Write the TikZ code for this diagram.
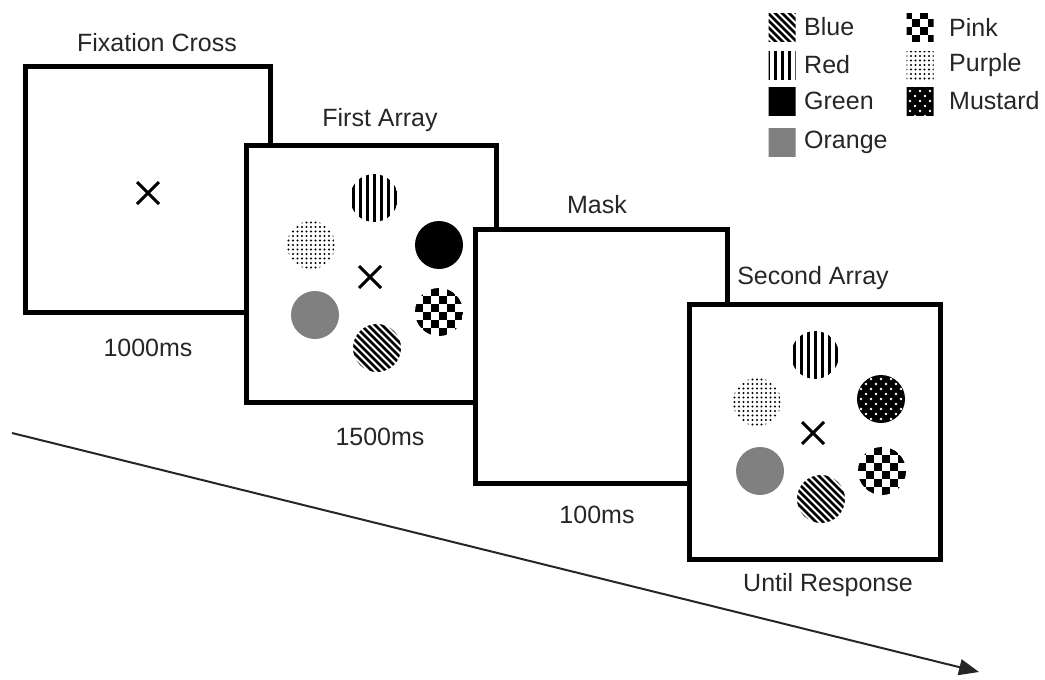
\documentclass[tikz,border=0pt]{standalone}
\usepackage{fontspec}
\setmainfont{Liberation Sans}
\usepackage{tikz}
\usetikzlibrary{arrows.meta}
\usetikzlibrary{positioning}
\newcommand{\inkColor}{black!85}
\newcommand{\orangeGray}{black!50}
\tikzset{
    screen/.style = {draw, fill=white, line width=5pt, inner sep=0pt},
    caption/.style = {text=\inkColor, font=\fontsize{25}{29}\selectfont, inner sep=0pt},
    legtext/.style = {caption, anchor=west}
}
% patterns, drawn round (0,0), clipped later
\newcommand{\patBlue}{\foreach \k in {-63,-56,...,63} \draw[line width=2.5pt] (\k-30,-30) -- (\k+30,30);}
\newcommand{\patRed}{\foreach \k in {-21,-14,...,21} \draw[line width=3pt] (\k,-30) -- (\k,30);}
\newcommand{\patGreen}{\fill (-30,-30) rectangle (30,30);}
\newcommand{\patOrange}{\fill[\orangeGray] (-30,-30) rectangle (30,30);}
\newcommand{\patPink}{\foreach \i in {-32,-16,...,16} \foreach \j in {-32,-16,...,16} {\fill (\i,\j) rectangle ++(8,8); \fill (\i+8,\j+8) rectangle ++(8,8);}}
\newcommand{\patPurple}{\foreach \i in {-27,-22.5,...,27} \foreach \j in {-27,-22.5,...,27} \fill (\i,\j) circle (1.15);}
\newcommand{\patMustard}{\fill (-30,-30) rectangle (30,30);
    \foreach \i in {-30,-20,...,30} \foreach \j in {-30,-20,...,30} {\fill[white] (\i,\j) circle (1.3); \fill[white] (\i+5,\j+5) circle (1.3);}}
\newcommand{\stim}[3]{\begin{scope}[shift={(#2,#3)}]\clip (0,0) circle (24); #1 \end{scope}}
\newcommand{\swatch}[3]{\begin{scope}[shift={(#2,#3)}]\clip (-13.5,-14) rectangle (13.5,14); #1 \end{scope}}
\newcommand{\fixcross}[2]{\draw[line width=3pt] (#1-11,#2-11) -- (#1+11,#2+11) (#1-11,#2+11) -- (#1+11,#2-11);}

\begin{document}
\begin{tikzpicture}[x=1pt, y=-1pt]
    \useasboundingbox (0,0) rectangle (1045,680);

    % time arrow
    \coordinate (tstart) at (12,433);
    \coordinate (tend) at (979,672);
    \draw[\inkColor, line width=2pt, -{Triangle[length=20pt,width=16pt]}] (tstart) -- (tend);

    % the four screens
    \node[screen, minimum width=245pt, minimum height=246pt] (fix) at (148,189.5) {};
    \node[screen, minimum width=250pt, minimum height=257pt] (first) at (371.5,274) {};
    \node[screen, minimum width=252pt, minimum height=254pt] (mask) at (601.5,356.5) {};
    \node[screen, minimum width=251pt, minimum height=255pt] (second) at (815,432) {};

    \node[caption] (fixT) at (157,43) {Fixation Cross};
    \node[caption] (firstT) at (380,120) {First Array};
    \node[caption] (maskT) at (597,205) {Mask};
    \node[caption] (secondT) at (813,278) {Second Array};
    \node[caption] (fixD) at (148,348) {1000ms};
    \node[caption] (firstD) at (380,437) {1500ms};
    \node[caption] (maskD) at (597,515) {100ms};
    \node[caption] (secondD) at (828,585) {Until Response};

    % fixation crosses
    \fixcross{148}{193}
    \fixcross{370}{277}
    \fixcross{813}{433}

    % first array
    \stim{\patRed}{374}{198}
    \stim{\patPurple}{311}{245}
    \stim{\patGreen}{439}{245}
    \stim{\patOrange}{315}{315}
    \stim{\patPink}{439}{312}
    \stim{\patBlue}{377}{348}

    % second array
    \stim{\patRed}{815}{355}
    \stim{\patPurple}{757}{402}
    \stim{\patMustard}{881}{399}
    \stim{\patOrange}{760}{471}
    \stim{\patPink}{882}{471}
    \stim{\patBlue}{821}{499}

    % legend
    \swatch{\patBlue}{782}{27}
    \swatch{\patRed}{782}{65}
    \swatch{\patGreen}{782}{101}
    \swatch{\patOrange}{782}{142}
    \swatch{\patPink}{920}{27}
    \swatch{\patPurple}{920}{65}
    \swatch{\patMustard}{920}{101}
    \node[legtext] (legBlue) at (804,27) {Blue};
    \node[legtext] (legRed) at (804,65) {Red};
    \node[legtext] (legGreen) at (804,101) {Green};
    \node[legtext] (legOrange) at (804,142) {Orange};
    \node[legtext] (legPink) at (949,27) {Pink};
    \node[legtext] (legPurple) at (949,65) {Purple};
    \node[legtext] (legMustard) at (949,101) {Mustard};
\end{tikzpicture}
\end{document}
